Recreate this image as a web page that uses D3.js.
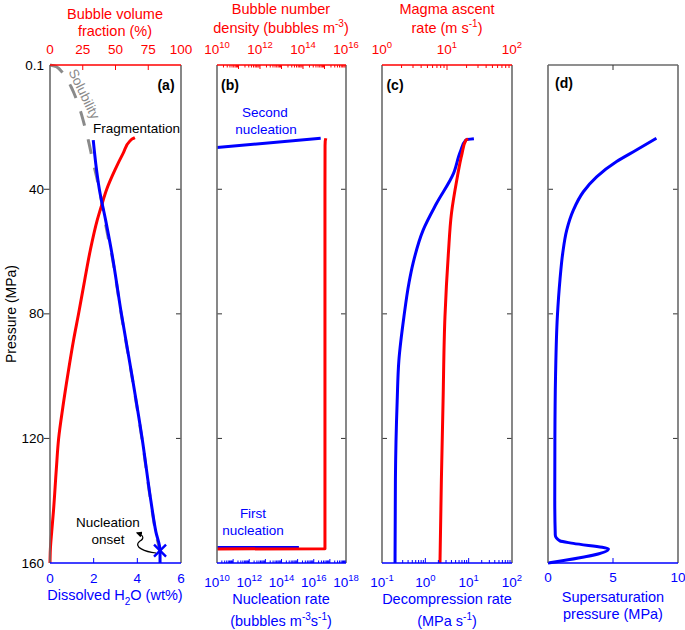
<!DOCTYPE html>
<html><head><meta charset="utf-8">
<script src="https://cdn.jsdelivr.net/npm/d3@7"></script>
<style>
body{margin:0;background:#fff}
text{font-family:"Liberation Sans",Arial,Helvetica,sans-serif}
</style>
</head><body>
<svg id="chart" width="685" height="630"></svg>
<script>
// ---------------- DATA ----------------
const pressureTicks = [0.1, 40, 80, 120, 160];
const innerPressureTicks = [40, 80, 120];

// Panel (a)
const h2oPressure   = [160, 156, 150, 140, 120, 100, 80, 60, 50, 40, 32, 24.2];
const h2oDissolved  = [5.04, 5.04, 4.85, 4.62, 4.22, 3.76, 3.27, 2.82, 2.55, 2.26, 2.10, 1.98];
const solubilityPressure = [0.1, 0.5, 1, 2, 3.3, 5, 7, 9, 11.3, 15, 20, 25, 30.6, 35, 40, 48, 56, 60, 80, 100, 120, 140, 150, 156];
const solubilityH2O      = [0, 0.24, 0.36, 0.51, 0.66, 0.80, 0.96, 1.09, 1.22, 1.40, 1.60, 1.78, 1.95, 2.10, 2.26, 2.46, 2.68, 2.80, 3.26, 3.75, 4.21, 4.61, 4.84, 5.03];
const bubbleFracPressure = [160, 155.5, 150, 143, 130, 120, 110, 99, 88.4, 80, 69.1, 59.5, 50, 45, 40, 33.8, 28.4, 24.5, 23.8, 23.4];
const bubbleFraction     = [0, 0.3, 1.3, 2.7, 4.8, 6.6, 9.8, 13.8, 18, 21.8, 26.5, 30.8, 36, 39.5, 43.3, 49.6, 55.9, 61, 63, 64.8];
const onsetPressure = 156, onsetH2O = 5.04;
const h2oTicks = [0, 2, 4, 6];
const fractionTicks = [0, 25, 50, 75, 100];

// Panel (b)
const firstNucPressure  = [155.0, 155.0];
const firstNucRate      = [1e10, 1.2e15];
const secondNucPressure = [26.6, 23.6];
const secondNucRate     = [1e10, 2.7e16];
const densityPressure = [155.5, 155.4, 100, 40, 26, 24.5, 23.6];
const numberDensity   = [1e10, 1.05e15, 1.05e15, 1.05e15, 1.06e15, 1.08e15, 1.15e15];
const rateExpTicks    = [10, 12, 14, 16, 18];
const densityExpTicks = [10, 12, 14, 16];

// Panel (c)
const decompPressure = [160, 133, 108, 95, 81, 70, 63.8, 53.1, 44.5, 34.9, 28, 24.2, 23.8];
const decompRate     = [0.2, 0.204, 0.224, 0.245, 0.32, 0.42, 0.52, 0.89, 1.82, 4.47, 6.4, 8.6, 13.2];
const ascentPressure = [160, 133, 108, 81, 60.6, 47.8, 37.2, 28.6, 24.3, 23.8];
const ascentRate     = [7.8, 8.2, 8.7, 9.3, 10.5, 11.7, 14.1, 17.0, 19.5, 21];
const decompExpTicks = [-1, 0, 1, 2];
const ascentExpTicks = [0, 1, 2];

// Panel (d)
const superPressure = [160, 155.5, 153.7, 152.9, 151.0, 140, 120, 100, 80.9, 69.1, 60.6, 53.1, 46.7, 40.8, 36, 31.1, 27.4, 23.6];
const superSat      = [0, 4.65, 1.95, 0.92, 0.56, 0.52, 0.53, 0.58, 0.72, 0.92, 1.13, 1.44, 1.95, 2.72, 3.74, 5.28, 6.8, 8.34];
const superTicks = [0, 5, 10];

// ---------------- DRAWING ----------------
const RED = "#ff0000", BLUE = "#0000ff", FRAME = "#6a6a6a";
const svg = d3.select("#chart");
const TOP = 65, BOT = 563;
const y = d3.scaleLinear().domain([0.1, 160]).range([TOP, BOT]);

const P = {
  a: {x0: 50, x1: 181},
  b: {x0: 217, x1: 346},
  c: {x0: 382, x1: 512},
  d: {x0: 548, x1: 678}
};

const xa  = d3.scaleLinear().domain([0, 6]).range([P.a.x0, P.a.x1]);
const xaT = d3.scaleLinear().domain([0, 100]).range([P.a.x0, P.a.x1]);
const xb  = d3.scaleLog().domain([1e10, 1e18]).range([P.b.x0, P.b.x1]);
const xbT = d3.scaleLog().domain([1e10, 1e16]).range([P.b.x0, P.b.x1]);
const xc  = d3.scaleLog().domain([1e-1, 1e2]).range([P.c.x0, P.c.x1]);
const xcT = d3.scaleLog().domain([1e0, 1e2]).range([P.c.x0, P.c.x1]);
const xd  = d3.scaleLinear().domain([0, 10]).range([P.d.x0, P.d.x1]);

function drawLine(g, ps, vs, xScale, color, opts = {}) {
  const data = d3.zip(ps, vs);
  const line = d3.line().x(d => xScale(d[1])).y(d => y(d[0])).curve(opts.curve || d3.curveMonotoneY);
  const path = g.append("path").datum(data).attr("d", line)
    .attr("fill", "none").attr("stroke", color).attr("stroke-width", opts.width || 3)
    .attr("stroke-linejoin", "round").attr("stroke-linecap", "butt");
  if (opts.dash) path.attr("stroke-dasharray", opts.dash);
  return path;
}

function logTickValues(e0, e1) {
  const out = [];
  for (let e = e0; e < e1; e++) for (let m = 1; m <= 9; m++) out.push({v: m * Math.pow(10, e), major: m === 1});
  out.push({v: Math.pow(10, e1), major: true});
  return out;
}

function powLabel(g, x, yb, exp, color) {
  const t = g.append("text").attr("x", x).attr("y", yb).attr("text-anchor", "middle")
    .attr("fill", color).attr("font-size", 13.5);
  t.append("tspan").text("10");
  t.append("tspan").attr("dy", -6).attr("font-size", 9.5).text(exp);
}

function text(g, x, yb, str, color, size, anchor, weight) {
  return g.append("text").attr("x", x).attr("y", yb).attr("text-anchor", anchor || "middle")
    .attr("fill", color || "#000").attr("font-size", size || 14).attr("font-weight", weight || "normal").text(str);
}

const gData = svg.append("g");
const gAxes = svg.append("g");

// ---- Panel (a) data ----
drawLine(gData, solubilityPressure, solubilityH2O, xa, "#8a8a8a", {dash: "15,14", width: 3});
drawLine(gData, bubbleFracPressure, bubbleFraction, xaT, RED);
drawLine(gData, h2oPressure, h2oDissolved, xa, BLUE);
{
  const cx = xa(onsetH2O), cy = y(onsetPressure), s = 6;
  gData.append("path").attr("d", `M${cx-s},${cy-s}L${cx+s},${cy+s}M${cx-s},${cy+s}L${cx+s},${cy-s}`)
    .attr("stroke", BLUE).attr("stroke-width", 2.4);
}

// ---- Panel (b) data ----
drawLine(gData, secondNucPressure, secondNucRate, xb, BLUE, {curve: d3.curveLinear});
drawLine(gData, firstNucPressure, firstNucRate, xb, BLUE, {curve: d3.curveLinear});
drawLine(gData, densityPressure, numberDensity, xbT, RED, {curve: d3.curveLinear});

// ---- Panel (c) data ----
drawLine(gData, decompPressure, decompRate, xc, BLUE);
drawLine(gData, ascentPressure, ascentRate, xcT, RED);

// ---- Panel (d) data ----
drawLine(gData, superPressure, superSat, xd, BLUE);

// ---- Frames & axes ----
const topColor = {a: RED, b: RED, c: RED, d: FRAME};
for (const k of ["a", "b", "c", "d"]) {
  const {x0, x1} = P[k];
  for (const p of innerPressureTicks) {
    if (k === "a") gAxes.append("line").attr("x1", x0 - 6).attr("x2", x0).attr("y1", y(p)).attr("y2", y(p)).attr("stroke", "#333").attr("stroke-width", 1);
    else gAxes.append("line").attr("x1", x0).attr("x2", x0 + 5).attr("y1", y(p)).attr("y2", y(p)).attr("stroke", "#333").attr("stroke-width", 1);
    gAxes.append("line").attr("x1", x1 - 5).attr("x2", x1).attr("y1", y(p)).attr("y2", y(p)).attr("stroke", "#333").attr("stroke-width", 1);
  }
  gAxes.append("line").attr("x1", x0).attr("x2", x0).attr("y1", TOP).attr("y2", BOT).attr("stroke", FRAME).attr("stroke-width", 1.6);
  gAxes.append("line").attr("x1", x1).attr("x2", x1).attr("y1", TOP).attr("y2", BOT).attr("stroke", FRAME).attr("stroke-width", 1.6);
  gAxes.append("line").attr("x1", x0).attr("x2", x1).attr("y1", TOP).attr("y2", TOP).attr("stroke", topColor[k]).attr("stroke-width", 1.4);
  gAxes.append("line").attr("x1", x0).attr("x2", x1).attr("y1", BOT).attr("y2", BOT).attr("stroke", BLUE).attr("stroke-width", 1.4);
}

function tickMark(x, top, len, color) {
  if (top) gAxes.append("line").attr("x1", x).attr("x2", x).attr("y1", TOP).attr("y2", TOP + len).attr("stroke", color).attr("stroke-width", 1);
  else gAxes.append("line").attr("x1", x).attr("x2", x).attr("y1", BOT).attr("y2", BOT - len).attr("stroke", color).attr("stroke-width", 1);
}

for (const p of pressureTicks) text(gAxes, 44, y(p) + 4.5, String(p), "#000", 13.5, "end");
gAxes.append("text").attr("transform", `translate(16,${(TOP + BOT) / 2}) rotate(-90)`).attr("text-anchor", "middle")
  .attr("font-size", 14).text("Pressure (MPa)");

// (a) axes
for (const v of h2oTicks) { if (v > 0 && v < 6) tickMark(xa(v), false, 5, BLUE); text(gAxes, xa(v), 583, String(v), BLUE, 13.5); }
for (const v of fractionTicks) { if (v > 0 && v < 100) tickMark(xaT(v), true, 5, RED); text(gAxes, xaT(v), 54, String(v), RED, 13.5); }
text(gAxes, 115, 19, "Bubble volume", RED, 14.5);
text(gAxes, 115, 36, "fraction (%)", RED, 14.5);
{
  const t = gAxes.append("text").attr("x", 115).attr("y", 600).attr("text-anchor", "middle").attr("fill", BLUE).attr("font-size", 14.5);
  t.append("tspan").text("Dissolved H");
  t.append("tspan").attr("dy", 5).attr("font-size", 10).text("2");
  t.append("tspan").attr("dy", -5).text("O (wt%)");
}

// (b) axes
for (const t of logTickValues(10, 18)) {
  const x = xb(t.v); if (x > P.b.x0 + 0.5 && x < P.b.x1 - 0.5) tickMark(x, false, t.major ? 4 : 2.5, BLUE);
}
for (const t of logTickValues(10, 16)) {
  const x = xbT(t.v); if (x > P.b.x0 + 0.5 && x < P.b.x1 - 0.5) tickMark(x, true, t.major ? 4 : 2.5, RED);
}
for (const e of rateExpTicks) powLabel(gAxes, xb(Math.pow(10, e)), 587, e, BLUE);
for (const e of densityExpTicks) powLabel(gAxes, xbT(Math.pow(10, e)), 54, e, RED);
text(gAxes, 281, 13.5, "Bubble number", RED, 14.5);
{
  const t = gAxes.append("text").attr("x", 281).attr("y", 33).attr("text-anchor", "middle").attr("fill", RED).attr("font-size", 14.5);
  t.append("tspan").text("density (bubbles m");
  t.append("tspan").attr("dy", -6).attr("font-size", 10).text("-3");
  t.append("tspan").attr("dy", 6).text(")");
}
text(gAxes, 281, 604, "Nucleation rate", BLUE, 14.5);
{
  const t = gAxes.append("text").attr("x", 281).attr("y", 626).attr("text-anchor", "middle").attr("fill", BLUE).attr("font-size", 14.5);
  t.append("tspan").text("(bubbles m");
  t.append("tspan").attr("dy", -6).attr("font-size", 10).text("-3");
  t.append("tspan").attr("dy", 6).text("s");
  t.append("tspan").attr("dy", -6).attr("font-size", 10).text("-1");
  t.append("tspan").attr("dy", 6).text(")");
}

// (c) axes
for (const t of logTickValues(-1, 2)) {
  const x = xc(t.v); if (x > P.c.x0 + 0.5 && x < P.c.x1 - 0.5) tickMark(x, false, t.major ? 5 : 3, BLUE);
}
for (const t of logTickValues(0, 2)) {
  const x = xcT(t.v); if (x > P.c.x0 + 0.5 && x < P.c.x1 - 0.5) tickMark(x, true, t.major ? 5 : 3, RED);
}
for (const e of decompExpTicks) powLabel(gAxes, xc(Math.pow(10, e)), 587, e, BLUE);
for (const e of ascentExpTicks) powLabel(gAxes, xcT(Math.pow(10, e)), 54, e, RED);
text(gAxes, 447, 13.5, "Magma ascent", RED, 14.5);
{
  const t = gAxes.append("text").attr("x", 447).attr("y", 33).attr("text-anchor", "middle").attr("fill", RED).attr("font-size", 14.5);
  t.append("tspan").text("rate (m s");
  t.append("tspan").attr("dy", -6).attr("font-size", 10).text("-1");
  t.append("tspan").attr("dy", 6).text(")");
}
text(gAxes, 447, 604, "Decompression rate", BLUE, 14.5);
{
  const t = gAxes.append("text").attr("x", 447).attr("y", 626).attr("text-anchor", "middle").attr("fill", BLUE).attr("font-size", 14.5);
  t.append("tspan").text("(MPa s");
  t.append("tspan").attr("dy", -6).attr("font-size", 10).text("-1");
  t.append("tspan").attr("dy", 6).text(")");
}

// (d) axes
for (const v of superTicks) {
  if (v > 0 && v < 10) { tickMark(xd(v), false, 5, BLUE); tickMark(xd(v), true, 5, "#333"); }
  text(gAxes, xd(v), 582, String(v), BLUE, 13.5);
}
text(gAxes, 613, 602, "Supersaturation", BLUE, 14.5);
text(gAxes, 613, 619, "pressure (MPa)", BLUE, 14.5);

// Panel letters
text(gAxes, 166, 90, "(a)", "#000", 14, "middle", "bold");
text(gAxes, 230, 90, "(b)", "#000", 14, "middle", "bold");
text(gAxes, 395, 90, "(c)", "#000", 14, "middle", "bold");
text(gAxes, 564, 88, "(d)", "#000", 14, "middle", "bold");

// Annotations
text(gAxes, 93, 133, "Fragmentation", "#000", 13.5, "start");
gAxes.append("text").attr("transform", "translate(80,96) rotate(64)").attr("text-anchor", "middle")
  .attr("fill", "#8a8a8a").attr("font-size", 13.5).text("Solubility");
text(gAxes, 265, 117, "Second", BLUE, 13.5);
text(gAxes, 266, 134, "nucleation", BLUE, 13.5);
text(gAxes, 253, 518, "First", BLUE, 13.5);
text(gAxes, 253, 535, "nucleation", BLUE, 13.5);
text(gAxes, 108, 527, "Nucleation", "#000", 13.5);
text(gAxes, 108, 544, "onset", "#000", 13.5);

svg.append("defs").append("marker").attr("id", "ah").attr("viewBox", "0 0 10 10").attr("refX", 8).attr("refY", 5)
  .attr("markerWidth", 5).attr("markerHeight", 5).attr("orient", "auto")
  .append("path").attr("d", "M0,0L10,5L0,10z").attr("fill", "#000");
gAxes.append("path").attr("d", "M156,553 C146,552 132,547 140,541 C145,538 143,535 137,533")
  .attr("fill", "none").attr("stroke", "#000").attr("stroke-width", 1.2).attr("marker-end", "url(#ah)");
</script>
</body></html>
